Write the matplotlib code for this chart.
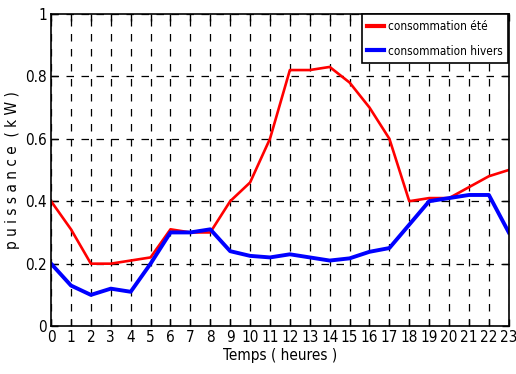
import matplotlib
matplotlib.use("Agg")
import matplotlib.pyplot as plt

heures = list(range(24))
ete = [0.40, 0.31, 0.20, 0.20, 0.21, 0.22, 0.31, 0.30, 0.30, 0.40, 0.46, 0.60,
       0.82, 0.82, 0.83, 0.78, 0.70, 0.60, 0.40, 0.41, 0.41, 0.445, 0.48, 0.50]
hivers = [0.20, 0.13, 0.10, 0.12, 0.11, 0.20, 0.30, 0.30, 0.31, 0.24, 0.225, 0.22,
          0.23, 0.22, 0.21, 0.217, 0.238, 0.25, 0.325, 0.40, 0.41, 0.42, 0.42, 0.30]
yticks = [0, 0.2, 0.4, 0.6, 0.8, 1]
ytick_labels = ["0", "0.2", "0.4", "0.6", "0.8", "1"]

plt.rcParams['font.family'] = ['DejaVu Sans']
plt.rcParams['font.stretch'] = 'condensed'

fig = plt.figure(figsize=(5.16, 3.74), dpi=100)
ax = fig.add_axes([0.099, 0.128, 0.887, 0.835])

ax.plot(heures, ete, color='red', lw=1.9, label='consommation été')
ax.plot(heures, hivers, color='blue', lw=2.8, label='consommation hivers')

ax.set_xlim(0, 23)
ax.set_ylim(0, 1)
ax.set_xticks(heures)
ax.set_yticks(yticks)
ax.set_yticklabels(ytick_labels)
ax.tick_params(direction='in', top=True, right=True, length=5, width=1,
               labelsize=11, pad=3)
ax.grid(True, color='black', linestyle=(0, (6, 6)), linewidth=0.9)
for s in ax.spines.values():
    s.set_linewidth(1.2)

ax.set_xlabel('Temps ( heures )', fontsize=11, labelpad=2)
ax.set_ylabel('p u i s s a n c e  ( k W )', fontsize=11, labelpad=4)

leg = ax.legend(loc='upper right', fontsize=8.5, fancybox=False, framealpha=1,
                edgecolor='black', handlelength=1.4, handletextpad=0.3,
                borderaxespad=0.05, borderpad=0.5, labelspacing=0.95)
leg.get_frame().set_linewidth(1.2)
for h in leg.get_lines():
    h.set_linewidth(3)

fig.savefig('out.png', dpi=100)
